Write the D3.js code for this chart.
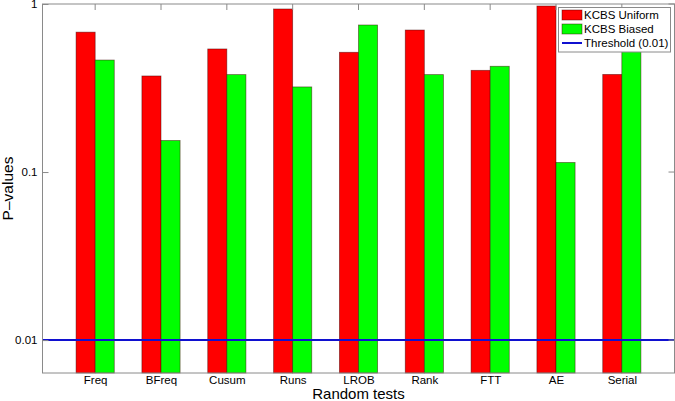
<!DOCTYPE html>
<html><head><meta charset="utf-8">
<script src="https://cdn.jsdelivr.net/npm/d3@7"></script>
<style>body{margin:0;background:#fff;} svg{display:block;font-family:"Liberation Sans",Arial,sans-serif;}</style>
</head><body><svg id="c" width="675" height="401"></svg>
<script>
const categories = ["Freq","BFreq","Cusum","Runs","LROB","Rank","FTT","AE","Serial"];
const uniformValues = [0.68,0.373,0.54,0.934,0.516,0.70,0.403,0.973,0.381];
const biasedValues = [0.464,0.154,0.38,0.321,0.75,0.38,0.426,0.114,0.53];
const threshold = 0.01;
const yTicks = [0.01,0.1,1];
const yTickLabels = ["0.01","0.1","1"];
const seriesNames = ["KCBS Uniform","KCBS Biased","Threshold (0.01)"];
const colors = ["#ff0000","#00ff00","#1010d0"];

const svg = d3.select("#c");
const L=42.5, R=674.5, T=4, B=373;
const x = d3.scaleLinear().domain([0.2,9.8]).range([L,R]);
const y = d3.scaleLog().domain([0.00637,1]).range([B,T]);
const unit = x(1)-x(0);
const bw = unit*0.29;
const fnt = "Liberation Sans, Arial, sans-serif";

const g = svg.append("g");
g.append("rect").attr("x",L).attr("y",T).attr("width",R-L).attr("height",B-T).attr("fill","#fff");

const series=[uniformValues,biasedValues];
series.forEach((vals,si)=>{
  g.selectAll(null).data(vals).enter().append("rect")
    .attr("x",(d,i)=>x(i+1)+(si===0?-bw:0))
    .attr("y",d=>y(d))
    .attr("width",bw)
    .attr("height",d=>B-y(d))
    .attr("fill",colors[si])
    .attr("stroke","rgba(60,0,0,0.55)")
    .attr("stroke-width",0.8);
});

// threshold line
g.append("line").attr("x1",L).attr("x2",R).attr("y1",y(threshold)).attr("y2",y(threshold))
  .attr("stroke",colors[2]).attr("stroke-width",2);

// axes box
const axCol="#8a8a8a";
g.append("rect").attr("x",L).attr("y",T).attr("width",R-L).attr("height",B-T)
  .attr("fill","none").attr("stroke",axCol).attr("stroke-width",1);

const xAxisB = d3.axisBottom(x).tickValues(d3.range(1,10)).tickFormat(i=>categories[i-1]).tickSize(0).tickPadding(3);
const gb = svg.append("g").attr("transform",`translate(0,${B})`).call(xAxisB);
gb.select(".domain").remove();
gb.selectAll("text").attr("font-size",11.5).attr("fill","#000").attr("font-family",fnt);
// top ticks inward
svg.append("g").selectAll(null).data(d3.range(1,10)).enter().append("line")
  .attr("x1",d=>x(d)).attr("x2",d=>x(d)).attr("y1",T).attr("y2",T+6).attr("stroke",axCol);

const yAxis = d3.axisLeft(y).tickValues(yTicks).tickFormat((d,i)=>yTickLabels[i]).tickSize(-6).tickPadding(5);
const gl = svg.append("g").attr("transform",`translate(${L},0)`).call(yAxis);
gl.select(".domain").remove();
gl.selectAll(".tick line").attr("stroke",axCol);
gl.selectAll("text").attr("font-size",11.5).attr("fill","#000").attr("font-family",fnt);
svg.append("g").selectAll(null).data(yTicks).enter().append("line")
  .attr("x1",R-6).attr("x2",R).attr("y1",d=>y(d)).attr("y2",d=>y(d)).attr("stroke",axCol);

svg.append("text").attr("x",(L+R)/2).attr("y",399).attr("text-anchor","middle")
  .attr("font-size",15).attr("font-family",fnt).text("Random tests");
svg.append("text").attr("transform",`translate(13,${(T+B)/2}) rotate(-90)`).attr("text-anchor","middle")
  .attr("font-size",15.5).attr("font-family",fnt).text("P\u2013values");

// legend
const lg = svg.append("g");
lg.append("rect").attr("x",558.5).attr("y",7.5).attr("width",112).attr("height",44.5)
  .attr("fill","#fff").attr("stroke",axCol);
const rows=[15,29,43];
seriesNames.forEach((n,i)=>{
  if(i<2){
    lg.append("rect").attr("x",562).attr("y",rows[i]-5).attr("width",20).attr("height",10)
      .attr("fill",colors[i]).attr("stroke","rgba(60,0,0,0.55)").attr("stroke-width",0.8);
  } else {
    lg.append("line").attr("x1",562).attr("x2",582).attr("y1",rows[i]).attr("y2",rows[i])
      .attr("stroke",colors[2]).attr("stroke-width",2);
  }
  lg.append("text").attr("x",584).attr("y",rows[i]+4.2).attr("font-size",11.5).attr("font-family",fnt).text(n);
});
</script></body></html>
